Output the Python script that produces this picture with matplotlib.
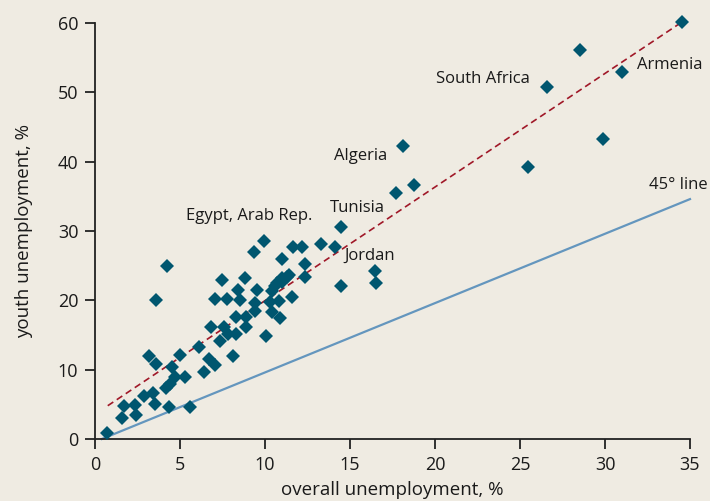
import matplotlib
matplotlib.use("Agg")
import matplotlib.pyplot as plt

# overall unemployment (%) and youth unemployment (%)
overall = [0.7, 1.6, 2.4, 1.7, 2.35, 3.5, 2.9, 3.4, 4.2, 4.4, 4.7, 5.3, 4.35, 5.6,
           3.2, 3.6, 4.5, 5.0, 6.1, 6.4, 6.7, 7.05, 8.1, 7.35, 6.8, 7.6, 7.8, 8.3,
           8.3, 8.9, 8.9, 10.05, 9.4, 10.4, 10.9, 9.4, 10.3, 10.8, 8.5, 7.05, 7.75,
           8.4, 9.55, 10.4, 10.6, 11.0, 11.3, 11.0, 11.6, 7.45, 8.85, 4.25, 3.6,
           9.35, 9.95, 11.0, 11.65, 12.2, 12.35, 12.35, 13.3, 14.1, 14.45, 14.45,
           16.45, 16.55, 17.7, 18.75, 18.1, 25.45, 26.6, 28.5, 29.9, 31.0, 34.5,
           11.4, 10.7]
youth = [0.8, 3.1, 3.4, 4.8, 4.9, 5.1, 6.2, 6.7, 7.3, 8.0, 9.0, 9.0, 4.6, 4.6,
         11.9, 10.8, 10.4, 12.1, 13.3, 9.7, 11.6, 10.7, 11.9, 14.2, 16.2, 16.2, 15.2, 15.2,
         17.6, 17.6, 16.1, 14.8, 18.4, 18.3, 17.4, 19.6, 19.7, 19.9, 20.0, 20.2, 20.2,
         21.5, 21.5, 21.4, 22.0, 22.7, 23.4, 23.2, 20.5, 23.0, 23.2, 24.9, 20.0,
         26.9, 28.6, 25.9, 27.7, 27.7, 25.3, 23.4, 28.1, 27.7, 30.6, 22.1,
         24.2, 22.5, 35.5, 36.6, 42.3, 39.2, 50.7, 56.1, 43.2, 53.0, 60.1,
         23.7, 22.5]

# reference lines (endpoints)
line45_x = [0.4, 35.0]
line45_y = [0.0, 34.6]
trend_x = [0.75, 34.5]
trend_y = [4.8, 60.1]

labels = ["South Africa", "Armenia", "Algeria", "Tunisia", "Egypt, Arab Rep.", "Jordan", "45° line"]
label_x = [25.6, 31.9, 17.2, 17.05, 9.06, 17.65, 34.3]
label_y = [51.9, 54.0, 40.8, 33.3, 32.2, 26.4, 36.6]
label_ha = ["right", "left", "right", "right", "center", "right", "center"]

bg = "#EFEBE2"
plt.rcParams['font.family'] = ['Open Sans', 'DejaVu Sans']

fig = plt.figure(figsize=(7.10, 5.01), dpi=100, facecolor=bg)
ax = fig.add_axes([95/710, 1 - 439/501, 595/710, 416/501])
ax.set_facecolor(bg)

ax.plot(line45_x, line45_y, color="#6496BE", lw=1.6, zorder=2, clip_on=False)
ax.plot(trend_x, trend_y, color="#A01828", lw=1.2, ls=(0, (4, 2.5)), zorder=3, clip_on=False)
ax.plot(overall, youth, ls="none", marker="D", ms=7.6, color="#00566F",
        markeredgewidth=0, zorder=4, clip_on=False)

for t, x, y, ha in zip(labels, label_x, label_y, label_ha):
    ax.text(x, y, t, ha=ha, va="center", fontsize=12, color="#1a1a1a")

ax.set_xlim(0, 35)
ax.set_ylim(0, 60)
ax.set_xticks(range(0, 36, 5))
ax.set_yticks(range(0, 61, 10))
for s in ["top", "right"]:
    ax.spines[s].set_visible(False)
for s in ["left", "bottom"]:
    ax.spines[s].set_linewidth(1.3)
    ax.spines[s].set_color("#222222")
ax.tick_params(axis="both", direction="out", length=7, width=1.3, color="#222222",
               labelsize=13, labelcolor="#1a1a1a", pad=5)
ax.set_xlabel("overall unemployment, %", fontsize=13.5, color="#1a1a1a", labelpad=5)
ax.set_ylabel("youth unemployment, %", fontsize=13.5, color="#1a1a1a", labelpad=18)

fig.savefig("out.png", dpi=100, facecolor=bg)
